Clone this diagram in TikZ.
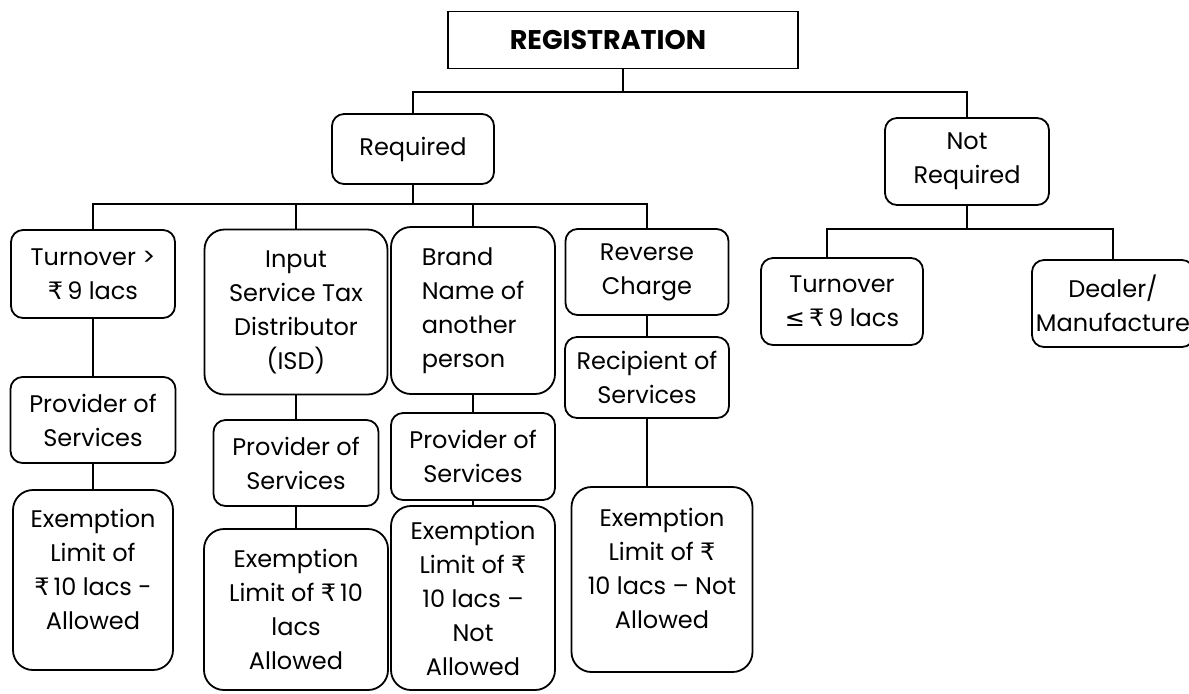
\documentclass[tikz,border=0pt]{standalone}
\usepackage{fontspec}
\setmainfont{Poppins}
\newfontfamily\symfont{DejaVu Sans}
\newcommand{\inr}{{\symfont ₹}}
\newcommand{\leqsym}{{\symfont ≤}}

\begin{document}
\begin{tikzpicture}[x=0.5pt, y=-0.5pt,
    sz/.style 2 args={minimum width=#1*0.5pt, minimum height=#2*0.5pt},
    box/.style={draw, line width=0.9pt, rounded corners=6pt, align=center,
      inner sep=0pt, font=\fontsize{12}{17}\selectfont},
    bigbox/.style={box, rounded corners=10pt},
    every path/.style={line width=0.9pt}]
    \useasboundingbox (0,0) rectangle (1189,693);

    % Top of the tree
    \node[draw, sz={350}{57}, font=\bfseries\fontsize{13.5}{17}\selectfont] (reg) at (623,40) {\hspace{-15pt}REGISTRATION};
    \node[box, sz={162}{70}] (req) at (413,149) {Required};
    \node[box, sz={164}{87}] (nreq) at (967,161.5) {Not\\Required};

    % Cases where registration is required
    \node[box, sz={164}{88}] (t1) at (93,274) {Turnover >\\\inr\,9 lacs};
    \node[box, sz={165}{86}] (p1) at (93,420) {Provider of\\Services};
    \node[bigbox, sz={160}{180}] (e1) at (93,580) {Exemption\\Limit of\\\inr\,10 lacs -\\Allowed\\[-6pt]\mbox{}};

    \node[bigbox, sz={183}{165}] (isd) at (296,312) {Input\\Service Tax\\Distributor\\(ISD)};
    \node[box, sz={165}{86}] (p2) at (296,463) {Provider of\\Services};
    \node[bigbox, sz={184}{161}] (e2) at (296,609.5) {Exemption\\Limit of \inr\,10\\lacs\\Allowed};

    \node[bigbox, sz={164}{167}, align=left] (brand) at (473,310.5) {Brand\\Name of\\another\\person};
    \node[box, sz={164}{87}] (p3) at (473,456.5) {Provider of\\Services};
    \node[bigbox, sz={164}{184}] (e3) at (473,598) {Exemption\\Limit of \inr\\10 lacs --\\Not\\Allowed};

    \node[box, sz={163}{86}] (rc) at (647,272) {Reverse\\Charge};
    \node[box, sz={164}{81}] (rs) at (647,377.5) {Recipient of\\Services};
    \node[bigbox, sz={181}{185}] (e4) at (662,579.5) {Exemption\\Limit of \inr\\10 lacs -- Not\\Allowed\\[-6pt]\mbox{}};

    % Cases where registration is not required
    \node[box, sz={162}{87}] (tl) at (842,301.5) {Turnover\\\leqsym\,\inr\,9 lacs};
    \node[box, sz={162}{87}] (dm) at (1113,303.5) {Dealer/\\Manufacture};

    % Connectors from the top box
    \coordinate (tbus) at (0,93);
    \draw (reg.south) -- (reg.south |- tbus);
    \draw (req.north) -- ++(0,-21) -| (nreq.north);

    % Connectors under Required
    \draw (req.south) -- ++(0,19) coordinate (rbus);
    \draw (t1.north) -- (t1.north |- rbus) -| (rc.north);
    \draw (isd.north) -- (isd.north |- rbus);
    \draw (brand.north) -- (brand.north |- rbus);

    \draw (t1) -- (p1);
    \draw (p1) -- (e1);
    \draw (isd) -- (p2);
    \draw (p2) -- (e2);
    \draw (brand) -- (p3);
    \draw (p3) -- (e3);
    \draw (rc) -- (rs);
    \draw (rs.south) -- (rs.south |- e4.north);

    % Connectors under Not Required
    \draw (nreq.south) -- ++(0,23) coordinate (nbus);
    \draw ([xshift=-7.5pt]tl.north) |- (nbus) -| (dm.north);
\end{tikzpicture}
\end{document}
